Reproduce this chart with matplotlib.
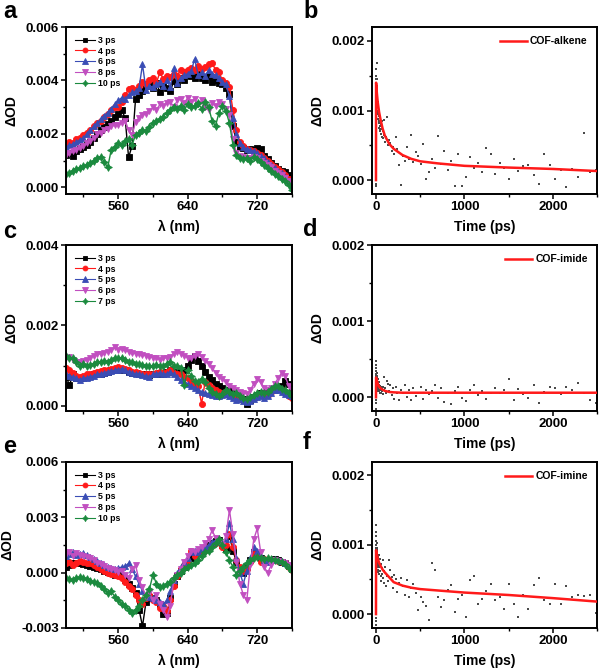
import numpy as np
import matplotlib
matplotlib.use("Agg")
import matplotlib.pyplot as plt
from matplotlib.ticker import MultipleLocator, AutoMinorLocator, FormatStrFormatter

plt.rcParams["font.family"] = ["Liberation Sans", "DejaVu Sans"]
plt.rcParams["font.weight"] = "bold"
plt.rcParams["axes.labelweight"] = "bold"
plt.rcParams["axes.unicode_minus"] = False

# --------------------------------------------------------------------------- #
# Transient spectra, dOD in units of 1e-5, wavelength in nm
# --------------------------------------------------------------------------- #
wl = [500, 504, 508, 512, 516, 520, 524, 528, 532, 536, 540,
      544, 548, 552, 556, 560, 564, 568, 572, 576, 580, 584,
      588, 592, 596, 600, 604, 608, 612, 616, 620, 624, 628,
      632, 636, 640, 644, 648, 652, 656, 660, 664, 668, 672,
      676, 680, 684, 688, 692, 696, 700, 704, 708, 712, 716,
      720, 724, 728, 732, 736, 740, 744, 748, 752, 756, 760]

# panel a (COF-alkene)
a_labels = ["3 ps", "4 ps", "6 ps", "8 ps", "10 ps"]
a_3ps = [120, 128, 118, 135, 142, 150, 158, 170, 185, 200, 215,
         225, 236, 250, 262, 275, 290, 260, 112, 155, 330, 345,
         362, 378, 385, 370, 392, 355, 380, 372, 360, 398, 385,
         410, 402, 420, 415, 408, 425, 410, 402, 418, 395, 400,
         390, 385, 372, 350, 230, 170, 150, 148, 140, 142, 138,
         148, 145, 118, 105, 92, 80, 70, 62, 58, 45, 30]
a_4ps = [160, 170, 165, 180, 185, 195, 205, 215, 228, 240, 250,
         262, 275, 290, 302, 300, 320, 345, 368, 372, 365, 378,
         395, 385, 400, 410, 392, 430, 405, 415, 412, 425, 418,
         440, 430, 438, 445, 440, 455, 442, 450, 460, 465, 440,
         430, 400, 390, 375, 290, 215, 170, 155, 145, 140, 135,
         130, 122, 110, 98, 88, 75, 68, 58, 48, 30, 12]
a_6ps = [150, 158, 162, 170, 178, 185, 200, 215, 228, 240, 255,
         268, 280, 295, 310, 325, 335, 330, 345, 355, 360, 372,
         460, 365, 380, 375, 385, 395, 380, 400, 375, 445, 390,
         410, 420, 425, 435, 480, 420, 430, 415, 440, 425, 420,
         410, 395, 385, 340, 260, 200, 165, 150, 142, 140, 135,
         128, 118, 108, 95, 85, 72, 62, 52, 40, 25, 10]
a_8ps = [120, 128, 135, 140, 148, 155, 165, 175, 185, 198, 205,
         215, 220, 228, 232, 235, 240, 250, 215, 195, 245, 260,
         270, 275, 285, 300, 290, 310, 305, 315, 320, 300, 325,
         330, 315, 335, 320, 330, 310, 325, 300, 290, 315, 305,
         320, 310, 295, 270, 180, 130, 118, 112, 108, 110, 112,
         108, 100, 92, 85, 75, 62, 55, 45, 35, 22, 8]
a_10ps = [50, 55, 62, 68, 72, 78, 85, 92, 100, 108, 115,
          95, 75, 140, 150, 165, 158, 175, 182, 160, 195, 205,
          215, 210, 225, 240, 250, 255, 265, 280, 290, 300, 295,
          305, 290, 310, 300, 305, 315, 295, 320, 300, 250, 230,
          280, 305, 285, 240, 160, 120, 110, 105, 108, 100, 112,
          105, 95, 85, 72, 62, 50, 42, 30, 22, 10, -10]

# panel c (COF-imide)
c_labels = ["3 ps", "4 ps", "5 ps", "6 ps", "7 ps"]
c_3ps = [72, 52, 78, 70, 68, 70, 72, 75, 78, 80, 80,
         82, 85, 88, 90, 92, 90, 88, 85, 82, 82, 80,
         80, 78, 76, 78, 80, 82, 80, 85, 88, 85, 82,
         85, 90, 98, 115, 125, 112, 100, 85, 72, 65, 55,
         50, 45, 40, 38, 32, 28, 25, 18, 5, 15, 22,
         28, 32, 30, 32, 38, 42, 45, 50, 62, 55, 35]
c_4ps = [95, 90, 82, 75, 72, 75, 78, 80, 82, 85, 86,
         88, 90, 92, 95, 96, 95, 92, 88, 85, 84, 82,
         80, 80, 78, 80, 82, 85, 82, 84, 88, 82, 78,
         80, 72, 70, 62, 55, 50, 5, 60, 52, 45, 40,
         35, 32, 30, 28, 25, 22, 18, 15, 12, 15, 20,
         25, 28, 25, 28, 35, 40, 42, 38, 32, 25, 20]
c_5ps = [80, 75, 72, 68, 65, 68, 70, 72, 75, 78, 80,
         82, 85, 86, 88, 90, 92, 88, 85, 82, 80, 78,
         76, 75, 72, 78, 80, 82, 78, 80, 85, 78, 72,
         65, 60, 55, 50, 45, 40, 35, 33, 30, 28, 25,
         25, 28, 30, 25, 20, 15, 18, 12, 10, 12, 18,
         22, 25, 20, 25, 32, 38, 40, 35, 30, 28, 25]
c_6ps = [118, 122, 115, 110, 108, 112, 115, 120, 125, 128, 130,
         132, 135, 138, 145, 140, 142, 138, 135, 132, 130, 128,
         126, 125, 122, 120, 118, 115, 118, 120, 122, 128, 135,
         130, 125, 120, 118, 125, 130, 122, 112, 105, 95, 82,
         72, 66, 58, 50, 45, 40, 35, 33, 30, 38, 55,
         66, 58, 45, 40, 45, 55, 68, 82, 75, 50, 40]
c_7ps = [125, 118, 120, 108, 100, 105, 98, 102, 105, 108, 110,
         112, 110, 115, 118, 120, 118, 115, 110, 108, 105, 104,
         102, 100, 98, 100, 102, 100, 98, 105, 110, 100, 98,
         95, 52, 88, 75, 62, 60, 66, 58, 45, 35, 30,
         25, 30, 38, 35, 30, 33, 25, 20, 16, 22, 28,
         33, 35, 33, 35, 42, 50, 48, 42, 40, 32, 25]

# panel e (COF-imine)
e_labels = ["3 ps", "4 ps", "5 ps", "8 ps", "10 ps"]
e_3ps = [30, 40, 50, 55, 50, 45, 40, 35, 30, 25, 20,
         10, 5, 0, -10, -15, -20, -40, -60, -85, -110, -200,
         -290, -160, -130, -140, -150, -170, -225, -220, -140, -60, -20,
         10, 30, 50, 80, 95, 110, 120, 130, 150, 160, 170,
         175, 150, 130, 200, 120, 60, 20, 0, 30, 70, 110,
         100, 80, 70, 65, 70, 75, 70, 60, 55, 35, 20]
e_4ps = [50, 60, 40, 55, 65, 60, 50, 55, 40, 30, 20,
         10, 0, -5, -10, -20, -30, -50, -70, -90, -120, -150,
         -170, -140, -120, -150, -160, -190, -180, -210, -150, -70, -20,
         20, 40, 60, 120, 90, 110, 120, 125, 140, 155, 160,
         165, 140, 150, 210, 140, 70, 30, 10, 20, 60, 100,
         90, 60, 75, 70, 68, 70, 65, 60, 50, 30, 15]
e_5ps = [90, 100, 110, 95, 100, 105, 95, 85, 75, 65, 55,
         40, 30, 25, 20, 25, 30, 35, 50, 20, -20, -60,
         -100, -120, -130, -140, -150, -160, -170, -150, -100, -40, 0,
         30, 60, 80, 110, 120, 110, 130, 140, 150, 165, 175,
         170, 160, 180, 270, 180, 80, 0, -60, 10, 80, 140,
         120, 90, 70, 60, 70, 75, 70, 65, 55, 40, 25]
e_8ps = [100, 110, 90, 105, 95, 90, 85, 80, 70, 55, 45,
         35, 25, 20, 15, 5, 10, -10, -30, 20, 40, -40,
         -80, -130, -110, -150, -120, -170, -200, -240, -180, -40, -10,
         20, 60, 90, 120, 110, 130, 140, 160, 180, 230, 190,
         165, 150, 200, 340, 210, 60, -60, -120, -150, 40, 180,
         240, 110, 30, 0, 40, 70, 65, 60, 55, 40, 30]
e_10ps = [-30, -35, -40, -30, -25, -30, -35, -45, -50, -55, -70,
          -90, -110, -100, -130, -150, -170, -180, -200, -220, -200, -180,
          -150, -120, -90, -10, -60, -80, -70, -60, -50, -30, -10,
          0, 20, 30, 40, 55, 70, 90, 110, 120, 140, 160,
          180, 150, 110, 70, 30, -10, 10, 30, 50, 70, 80,
          85, 80, 75, 78, 72, 70, 65, 60, 45, 25, 10]

# --------------------------------------------------------------------------- #
# Kinetics, dOD in units of 1e-5, time in ps
# --------------------------------------------------------------------------- #
t_ps = [-4, -3, -2, -1, 0, 0.3, 0.6, 1, 1.5, 2, 2.5, 3, 3.5, 4, 5, 6,
        7, 8, 9, 10, 11, 12, 13, 14, 15, 16, 18, 20, 22, 24, 26,
        28, 30, 33, 36, 39, 42, 45, 48, 52, 56, 60, 65, 70, 75, 80,
        86, 95, 105, 115, 126, 138, 150, 163, 177, 192,
        208, 225, 243, 262, 282, 303, 325, 348, 372, 397,
        423, 450, 478, 507, 537, 568, 600, 633, 667, 702, 738,
        775, 813, 852, 892, 933, 975, 1018, 1062, 1107, 1153, 1200,
        1248, 1297, 1347, 1398, 1450, 1503, 1557, 1612, 1668, 1725, 1783,
        1842, 1902, 1963, 2025, 2088, 2152, 2217, 2283, 2350, 2418, 2487]

b_kin = [-5, 2, -8, 5, 20, 60, 95, 120, 140, 150, 135, 145, 128, 160, 138, 168,
         132, 145, 120, 135, 118, 125, 112, 130, 105, 118, 100, 112, 95, 108, 88,
         98, 82, 92, 75, 85, 70, 78, 72, 80, 66, 74, 62, 85, 60, 70,
         65, 87, 55, 62, 90, 50, 58, 54, 42, 48,
         38, 62, 44, 22, -7, 35, 28, 47, 30, 65,
         26, 40, 35, 23, 52, 1, 11, 30, 18, 64, 23,
         42, 15, 28, -8, 38, -8, 5, 33, 18, 25, 12,
         46, 38, 9, 25, 18, 1, 31, 13, 20, 22, 8,
         -6, 38, 22, 1, 15, -10, 16, 5, 67, 11, 14]
d_kin = [-3, 5, -8, 2, -15, 10, 25, 38, 48, 30, 42, 22, 35, 15, 28, 20,
         32, 12, 25, 18, 28, 10, 22, 15, 25, 8, 20, 14, 24, 10, 18,
         12, 20, 8, 16, 10, 14, 6, 15, 9, 13, 5, 12, 8, 14, 4,
         10, 26, 12, 5, 22, 18, 8, 16, 3, 12,
         -2, 14, 6, -4, 10, 5, 16, 1, 9, -3,
         12, 2, 6, 14, -2, 10, 4, 8, 16, -1, 12,
         -6, 5, -9, 8, 14, -1, -5, 10, 16, 3, 8,
         -2, 6, 12, 5, 9, 24, -3, 11, 4, -1, 16,
         -8, 7, 14, 12, 4, 14, 9, 19, 6, -4, -7]
f_kin = [-10, 5, -15, 0, -5, 40, 75, 95, 118, 128, 105, 112, 92, 100, 85, 95,
         78, 102, 88, 72, 90, 80, 68, 85, 75, 92, 70, 82, 64, 78, 72,
         60, 85, 68, 74, 58, 80, 62, 70, 55, 72, 48, 66, 58, 78, 52,
         62, 45, 68, 40, 55, 48, 78, 64, 54, 38,
         57, 50, 32, 45, 52, 40, 28, 49, 25, 38,
         44, 30, 6, 25, 18, 12, -9, 74, 63, 25, 10,
         20, 35, 42, 3, 22, 28, -4, 49, 55, 15, 22,
         33, 43, 20, 25, 8, 44, 15, -4, 28, 7, 42,
         52, 20, 14, 44, 14, 40, 25, 28, 26, 27, 1]

fit_t = [0, 1, 3, 10, 20, 35, 50, 75, 100, 150, 200, 300, 400, 500, 700,
         1000, 1500, 2000, 2500]
b_fit = [0, 140, 138, 125, 112, 98, 88, 74, 64, 52, 45, 36, 30.5, 27, 24,
         20.5, 18, 16, 13]
d_fit = [0, 26, 25, 22, 18, 14, 12, 10, 8.5, 7, 6.5, 6, 6, 6, 6,
         6, 6, 6, 6]
f_fit = [0, 92, 90, 86, 80, 74, 70, 64, 60, 53, 46, 41, 38, 36, 34,
         31, 27.5, 23, 18]

SCALE = 1e-5
COLORS = ["#000000", "#ff1a1a", "#3a4db5", "#c14fc0", "#1b8a3e"]
MARKERS = ["s", "o", "^", "v", (4, 1, 0)]
MSIZES = [4.2, 4.4, 4.6, 4.6, 5.6]


def _style(ax, xmaj, ymaj, yfmt="%.3f"):
    for s in ax.spines.values():
        s.set_linewidth(1.4)
    ax.xaxis.set_major_locator(MultipleLocator(xmaj))
    ax.xaxis.set_minor_locator(AutoMinorLocator(2))
    ax.yaxis.set_major_locator(MultipleLocator(ymaj))
    ax.yaxis.set_minor_locator(AutoMinorLocator(2))
    ax.yaxis.set_major_formatter(FormatStrFormatter(yfmt))
    ax.tick_params(which="major", length=3.5, width=1.1, labelsize=9.5, pad=1.5)
    ax.tick_params(which="minor", length=2, width=1)
    for lab in ax.get_xticklabels() + ax.get_yticklabels():
        lab.set_fontweight("bold")


def spectra(ax, series, labels, ylim, ymaj):
    x = np.array(wl)
    for y, lab, c, m, ms in zip(series, labels, COLORS, MARKERS, MSIZES):
        ax.plot(x, np.array(y) * SCALE, color=c, lw=1.0, marker=m, ms=ms,
                mec=c, mew=0.6, label=lab)
    ax.set_xlim(500, 760)
    ax.set_ylim(*ylim)
    _style(ax, 80, ymaj)
    ax.set_xlabel("λ (nm)", fontsize=10, labelpad=5)
    ax.set_ylabel("ΔOD", fontsize=10, labelpad=5)
    leg = ax.legend(loc="upper left", frameon=False, handlelength=2.3,
                    labelspacing=0.2, borderaxespad=0.6, handletextpad=0.4,
                    markerscale=0.8, prop={"weight": "bold", "size": 6.3})
    for h in leg.legend_handles:
        h.set_linewidth(0.8)


def kinetics(ax, kin, fit, label, ylim):
    ax.scatter(t_ps, np.array(kin) * SCALE, s=1.8, marker="s", color="#4a4a4a",
               linewidths=0, zorder=2)
    ax.plot(fit_t, np.array(fit) * SCALE, color="#ff1a1a", lw=1.8, zorder=3, label=label)
    ax.set_xlim(-45, 2500)
    ax.set_ylim(*ylim)
    _style(ax, 1000, 0.001)
    ax.set_xlabel("Time (ps)", fontsize=10, labelpad=5)
    ax.set_ylabel("ΔOD", fontsize=10, labelpad=5)
    ax.legend(loc="upper right", frameon=False, handlelength=2.6,
              borderaxespad=0.5, handletextpad=0.3,
              prop={"weight": "bold", "size": 7.5})


fig = plt.figure(figsize=(6, 6.72), dpi=100)
LX, RX, LW, RW = 0.110, 0.620, 0.3767, 0.375
ROWS = [(0.7113, 0.2485), (0.3884, 0.247), (0.0655, 0.247)]

ax_a = fig.add_axes([LX, ROWS[0][0], LW, ROWS[0][1]])
ax_b = fig.add_axes([RX, ROWS[0][0], RW, ROWS[0][1]])
ax_c = fig.add_axes([LX, ROWS[1][0], LW, ROWS[1][1]])
ax_d = fig.add_axes([RX, ROWS[1][0], RW, ROWS[1][1]])
ax_e = fig.add_axes([LX, ROWS[2][0], LW, ROWS[2][1]])
ax_f = fig.add_axes([RX, ROWS[2][0], RW, ROWS[2][1]])

spectra(ax_a, [a_3ps, a_4ps, a_6ps, a_8ps, a_10ps], a_labels, (-0.00025, 0.006), 0.002)
spectra(ax_c, [c_3ps, c_4ps, c_5ps, c_6ps, c_7ps], c_labels, (-0.00013, 0.004), 0.002)
spectra(ax_e, [e_3ps, e_4ps, e_5ps, e_8ps, e_10ps], e_labels, (-0.003, 0.006), 0.003)

kinetics(ax_b, b_kin, b_fit, "COF-alkene", (-0.0002, 0.0022))
kinetics(ax_d, d_kin, d_fit, "COF-imide", (-0.00018, 0.002))
kinetics(ax_f, f_kin, f_fit, "COF-imine", (-0.0002, 0.00219))

for letter, x, y in [("a", 0.005, 0.983), ("b", 0.505, 0.983),
                     ("c", 0.005, 0.655), ("d", 0.505, 0.658),
                     ("e", 0.005, 0.335), ("f", 0.505, 0.342)]:
    fig.text(x, y, letter, fontsize=17, fontweight="bold", va="center", ha="left")

fig.savefig("out.png", dpi=100)
